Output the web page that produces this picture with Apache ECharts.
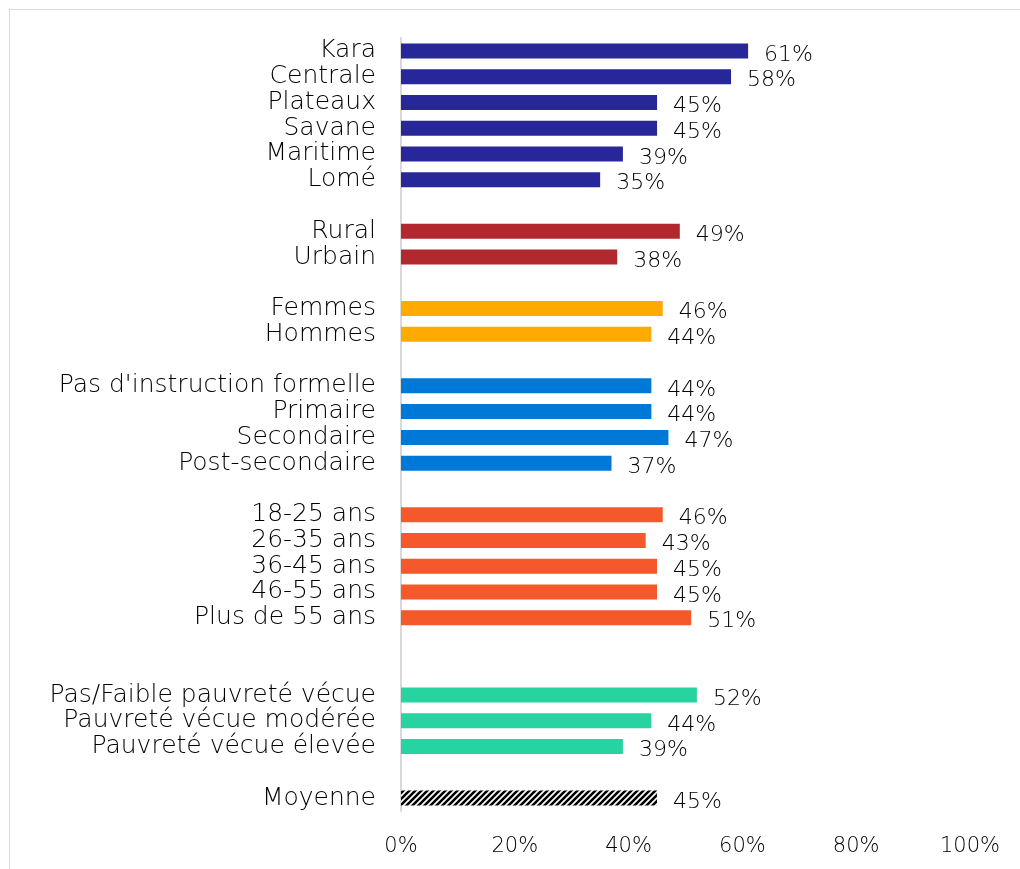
<!DOCTYPE html>
<html>
<head>
<meta charset="utf-8">
<script src="https://cdn.jsdelivr.net/npm/echarts@6/dist/echarts.min.js"></script>
<style>
  html, body { margin: 0; padding: 0; background: #ffffff; }
  #frame { position: absolute; left: 9px; top: 9px; width: 1100px; height: 1000px; border: 1.5px solid #d9d9d9; box-sizing: border-box; }
  #chart { position: absolute; left: 0; top: 0; width: 1020px; height: 869px; }
</style>
</head>
<body>
<div id="frame"></div>
<div id="chart"></div>
<script>
// Groups of categories and their percentages
const regions = ['Kara', 'Centrale', 'Plateaux', 'Savane', 'Maritime', 'Lomé'];
const regionValues = [61, 58, 45, 45, 39, 35];

const milieu = ['Rural', 'Urbain'];
const milieuValues = [49, 38];

const sexe = ['Femmes', 'Hommes'];
const sexeValues = [46, 44];

const education = ["Pas d'instruction formelle", 'Primaire', 'Secondaire', 'Post-secondaire'];
const educationValues = [44, 44, 47, 37];

const ages = ['18-25 ans', '26-35 ans', '36-45 ans', '46-55 ans', 'Plus de 55 ans'];
const ageValues = [46, 43, 45, 45, 51];

const pauvrete = ['Pas/Faible pauvreté vécue', 'Pauvreté vécue modérée', 'Pauvreté vécue élevée'];
const pauvreteValues = [52, 44, 39];

const moyenne = ['Moyenne'];
const moyenneValues = [45];

const xTicks = [0, 20, 40, 60, 80, 100];

// Diagonal hatch used for the average bar
function hatchPattern() {
  const c = document.createElement('canvas');
  c.width = 6; c.height = 6;
  const g = c.getContext('2d');
  g.fillStyle = '#ffffff';
  g.fillRect(0, 0, 6, 6);
  g.strokeStyle = '#000000';
  g.lineWidth = 2.6;
  g.beginPath();
  for (let k = -2; k <= 2; k++) {
    g.moveTo(k * 6 - 3, 9);
    g.lineTo(k * 6 + 9, -3);
  }
  g.stroke();
  return { image: c, repeat: 'repeat' };
}

// Blocks in display order; gap = number of empty rows after the block
const blocks = [
  { names: regions, values: regionValues, color: '#27279a', gap: 1 },
  { names: milieu, values: milieuValues, color: '#b1292f', gap: 1 },
  { names: sexe, values: sexeValues, color: '#ffaa00', gap: 1 },
  { names: education, values: educationValues, color: '#0078d7', gap: 1 },
  { names: ages, values: ageValues, color: '#f4582b', gap: 2 },
  { names: pauvrete, values: pauvreteValues, color: '#27d3a0', gap: 1 },
  { names: moyenne, values: moyenneValues, color: hatchPattern(), gap: 0 }
];

const categories = [];
const seriesData = [];
let gapId = 0;
blocks.forEach(b => {
  b.names.forEach((n, i) => {
    categories.push(n);
    seriesData.push({ value: b.values[i], itemStyle: { color: b.color } });
  });
  for (let k = 0; k < b.gap; k++) {
    categories.push(' '.repeat(++gapId));
    seriesData.push({ value: null });
  }
});

const FONT = "'DejaVu Sans', sans-serif";
const chart = echarts.init(document.getElementById('chart'), null, { renderer: 'canvas' });
chart.setOption({
  backgroundColor: 'transparent',
  animation: false,
  grid: { left: 401, right: 50, top: 38, bottom: 58, containLabel: false },
  xAxis: {
    type: 'value',
    min: 0,
    max: 100,
    interval: 20,
    axisLine: { show: false },
    axisTick: { show: false },
    splitLine: { show: false },
    axisLabel: {
      margin: 25,
      color: '#000000',
      fontFamily: FONT,
      fontWeight: 300,
      fontSize: 21,
      formatter: v => (xTicks.includes(v) ? v + '%' : '')
    }
  },
  yAxis: {
    type: 'category',
    data: categories,
    inverse: true,
    axisLine: { show: true, lineStyle: { color: '#d9d9d9', width: 2 } },
    axisTick: { show: false },
    axisLabel: {
      margin: 25,
      color: '#000000',
      fontFamily: FONT,
      fontWeight: 300,
      fontSize: 25,
      padding: [3, 0, 0, 0],
      interval: 0
    }
  },
  series: [{
    type: 'bar',
    data: seriesData,
    barWidth: 15,
    label: {
      show: true,
      position: 'right',
      distance: 16,
      color: '#000000',
      fontFamily: FONT,
      fontWeight: 300,
      fontSize: 22,
      offset: [0, 4],
      formatter: p => p.value + '%'
    }
  }]
});
</script>
</body>
</html>
